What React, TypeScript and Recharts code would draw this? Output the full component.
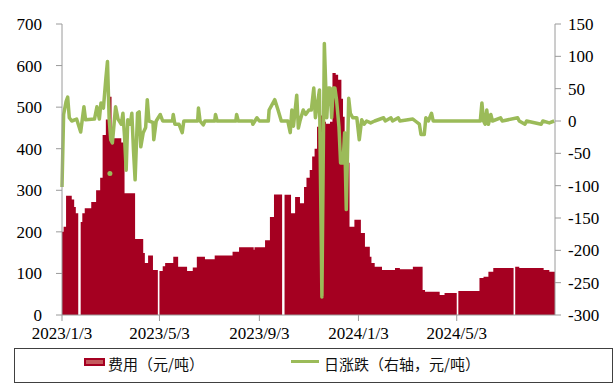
import { ComposedChart, Area, Line, XAxis, YAxis } from "recharts";

// days counted from 2023/1/3
const xTickDays = [0, 120, 243, 365, 486];
const xTickLabels = ["2023/1/3", "2023/5/3", "2023/9/3", "2024/1/3", "2024/5/3"];

const leftTicks = [0, 100, 200, 300, 400, 500, 600, 700];
const rightTicks = [-300, -250, -200, -150, -100, -50, 0, 50, 100, 150];

// 费用（元/吨）
const feeDays = [
  0, 2, 5, 12, 15, 17, 20, 23, 25, 28, 36, 42, 47, 50, 54, 58, 61, 73, 77, 90,
  100, 102, 106, 112, 118, 120, 124, 127, 137, 143, 154, 161, 166, 176, 188, 210, 218, 236, 237, 250,
  256, 261, 271, 274, 282, 287, 293, 298, 301, 305, 308, 311, 314, 317, 321, 325, 330, 333, 337, 340,
  344, 346, 348, 351, 354, 360, 368, 373, 379, 381, 385, 394, 410, 416, 432, 444, 447, 465, 471, 486,
  488, 514, 519, 525, 531, 556, 558, 563, 593, 600, 607,
];
const feeValues = [
  200, 212, 287, 278, 260, 245, 0, 224, 245, 257, 272, 300, 330, 433, 470, 525, 425, 415, 293, 183,
  149, 125, 143, 108, 0, 106, 117, 125, 140, 116, 106, 114, 140, 134, 143, 152, 163, 157, 163, 180,
  236, 290, 0, 289, 245, 284, 269, 308, 330, 349, 381, 400, 453, 480, 465, 460, 465, 582, 578, 566,
  520, 477, 420, 366, 212, 229, 197, 164, 140, 125, 116, 108, 113, 110, 116, 60, 56, 48, 53, 0,
  58, 89, 92, 104, 113, 0, 116, 113, 108, 104, 104,
];

// 日涨跌（右轴，元/吨）
const chgDays = [
  0, 2, 5, 7, 9, 12, 18, 23, 27, 29, 40, 43, 46, 48, 51, 54, 56, 58, 60, 62,
  66, 69, 73, 75, 77, 79, 81, 84, 86, 88, 90, 93, 95, 97, 100, 103, 105, 107, 112, 113,
  116, 121, 124, 136, 137, 139, 144, 148, 150, 167, 168, 170, 174, 176, 188, 189, 191, 214, 215, 217,
  234, 235, 240, 243, 254, 255, 262, 266, 270, 278, 281, 283, 285, 289, 291, 293, 297, 300, 304, 307,
  310, 312, 317, 320, 323, 326, 328, 330, 332, 334, 336, 338, 341, 343, 346, 348, 350, 353, 355, 358,
  363, 366, 369, 372, 375, 380, 385, 396, 398, 405, 407, 414, 416, 432, 435, 440, 442, 446, 448, 451,
  455, 457, 515, 517, 519, 521, 523, 525, 528, 530, 540, 542, 561, 563, 570, 572, 590, 592, 600, 606,
];
const chgValues = [
  -102, 10, 30, 37, 5, 0, 3, -17, 22, 2, 3, 22, 3, 28, 20, 66, 92, 5, -29, -34,
  22, 3, -5, 12, -24, -76, 2, -5, 12, -45, -91, 12, 14, -40, -18, -10, 33, 0, -2, -29,
  0, 10, 0, 0, 10, -5, -5, -18, 0, 0, 20, 0, -6, 0, 0, 10, 0, 0, 10, 0,
  0, -5, 5, 0, 0, 17, 33, 17, 0, 0, -18, 17, -8, 40, -11, 0, 17, 10, 17, 17,
  51, 5, 48, -272, 120, 5, 51, 51, 5, 51, 51, 33, -9, -65, -65, -18, -137, 35, 12, 5,
  5, -29, 2, -5, 0, -3, 0, 5, 0, 5, 0, 5, 0, 3, 0, -5, -21, -21, 5, 0,
  12, 0, 0, 28, 0, -5, 17, -5, 10, 0, 5, 0, 5, 0, -5, 0, -5, 0, -3, 0,
];

// lone point that Excel drew unconnected
const chgDotDays = [59];
const chgDotValues = [-81];

type Row = { d: number; fee?: number; chg?: number; dot?: number };

function buildRows(): Row[] {
  const map = new Map<number, Row>();
  const get = (d: number) => {
    if (!map.has(d)) map.set(d, { d });
    return map.get(d)!;
  };
  feeDays.forEach((d, i) => (get(d).fee = feeValues[i]));
  chgDays.forEach((d, i) => (get(d).chg = chgValues[i]));
  chgDotDays.forEach((d, i) => (get(d).dot = chgDotValues[i]));
  return [...map.values()].sort((a, b) => a.d - b.d);
}

const data = buildRows();

const RED = "#A50021";
const GREEN = "#9BBB59";
const AXIS = "#9a9a9a";
const tickStyle = { fontSize: 17, fill: "#000", fontFamily: "'Liberation Serif', 'Times New Roman', serif" };
const cjk = "'Noto Sans CJK SC', sans-serif";

export default function App() {
  return (
    <div style={{ position: "absolute", left: 0, top: 0, width: 616, height: 383, background: "#fff" }}>
      <ComposedChart width={616} height={348} data={data} margin={{ top: 24, right: 0, bottom: 0, left: 0 }}>
        <XAxis
          dataKey="d"
          type="number"
          domain={[0, 607]}
          ticks={xTickDays}
          tickFormatter={(v: number) => xTickLabels[xTickDays.indexOf(v)] ?? ""}
          height={33}
          tick={tickStyle}
          tickMargin={6}
          stroke={AXIS}
          tickLine={{ stroke: AXIS }}
          interval={0}
        />
        <YAxis
          yAxisId="left"
          domain={[0, 700]}
          ticks={leftTicks}
          width={62}
          tick={tickStyle}
          tickMargin={14}
          stroke={AXIS}
          interval={0}
        />
        <YAxis
          yAxisId="right"
          orientation="right"
          domain={[-300, 150]}
          ticks={rightTicks}
          width={61}
          tick={tickStyle}
          tickMargin={7}
          stroke={AXIS}
          interval={0}
        />
        <Area
          yAxisId="left"
          type="stepAfter"
          dataKey="fee"
          stroke="none"
          fill={RED}
          fillOpacity={1}
          connectNulls
          isAnimationActive={false}
        />
        <Line
          yAxisId="right"
          type="linear"
          dataKey="chg"
          stroke={GREEN}
          strokeWidth={3.5}
          strokeLinejoin="round"
          dot={false}
          connectNulls
          isAnimationActive={false}
        />
        <Line
          yAxisId="right"
          dataKey="dot"
          stroke="none"
          dot={{ r: 2.5, fill: GREEN, stroke: "none" }}
          isAnimationActive={false}
        />
      </ComposedChart>
      <div
        style={{
          position: "absolute",
          left: 14,
          top: 348,
          width: 597,
          height: 33,
          border: "1px solid #404040",
          fontFamily: cjk,
          fontSize: 15,
          color: "#111",
        }}
      >
        <div style={{ position: "absolute", left: 69, top: 9, width: 17, height: 4, border: `2px solid ${RED}`, background: "#C45A5E" }} />
        <div style={{ position: "absolute", left: 93, top: 5, lineHeight: "20px", whiteSpace: "nowrap" }}>费用（元/吨）</div>
        <div style={{ position: "absolute", left: 276, top: 11, width: 28, height: 3, background: GREEN }} />
        <div style={{ position: "absolute", left: 309, top: 5, lineHeight: "20px", whiteSpace: "nowrap" }}>日涨跌（右轴，元/吨）</div>
      </div>
    </div>
  );
}
